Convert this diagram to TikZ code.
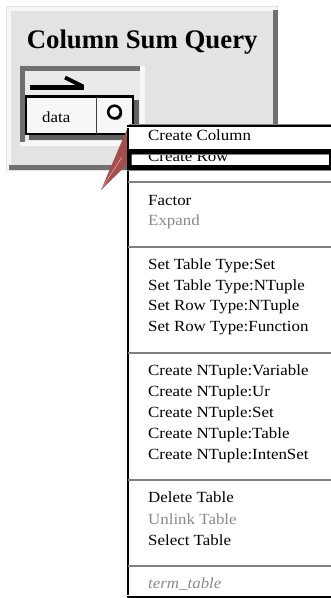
\documentclass[tikz,border=0pt]{standalone}
\usepackage{fontspec}
\setmainfont{Liberation Serif}
\newfontfamily\menufont[FakeStretch=1.09]{Liberation Serif}

\definecolor{panelgray}{RGB}{227,227,227}
\definecolor{bevellight}{RGB}{247,247,247}
\definecolor{beveldark}{RGB}{112,112,112}
\definecolor{frameinner}{RGB}{234,234,234}
\definecolor{shadowgray}{RGB}{96,96,96}
\definecolor{cellfill}{RGB}{247,247,247}
\definecolor{wedgered}{RGB}{163,77,77}
\definecolor{wedgelight}{RGB}{222,170,170}
\definecolor{sepgray}{RGB}{128,128,128}
\definecolor{dimtext}{RGB}{138,138,138}

\begin{document}
\begin{tikzpicture}[x=1pt,y=-1pt,
  item/.style={font=\menufont\fontsize{15.5}{18}\selectfont, anchor=base west, inner sep=0pt, text=black},
  dimitem/.style={item, text=dimtext},
  menusep/.style={draw=sepgray, line width=2.6pt},
  cellbox/.style={draw=none, fill=cellfill, inner sep=0pt, anchor=north west}]
\useasboundingbox (0,0) rectangle (331,598);
\clip (0,0) rectangle (331,598);

% raised panel
\fill[bevellight, draw=panelgray, line width=0.8pt] (6,6) rectangle (277,170);
\fill[beveldark] (273,10) rectangle (277.5,170);
\fill[beveldark] (9,165) rectangle (277.5,170);
\fill[panelgray] (11,11) rectangle (273,165);
\node[font=\fontsize{26.8}{30}\selectfont\bfseries, anchor=base, inner sep=0pt] (title) at (142.2,48.3) {Column Sum Query};

% sunken frame around the table
\fill[bevellight] (20,66) rectangle (145,146);
\fill[beveldark] (20,66) rectangle (140,70.5);
\fill[beveldark] (20,66) rectangle (24.5,142);
\fill[frameinner] (24.5,70.5) rectangle (140,141);

% table header arrow
\draw[line width=4.5pt] (30,87.3) -- (84,87.3);
\draw[line width=4pt] (65,77.5) -- (83,86.5);

% drop shadow of the table row
\fill[shadowgray] (29,100) rectangle (139,139.5);

% table row: data cell and pin cell
\node[cellbox, minimum width=69.8pt, minimum height=37pt] (datacell) at (26.2,96.5) {};
\node[cellbox, minimum width=36.8pt, minimum height=37pt] (pincell) at (96,96.5) {};
\draw[line width=2.4pt] (datacell.north west) rectangle (pincell.south east);
\draw[draw=black!75, line width=1.8pt] (datacell.north east) -- (datacell.south east);
\node[item, font=\menufont\fontsize{15.5}{18}\selectfont] (datatext) at (42,122.5) {data};
\fill[black!55] (116,113.8) circle (6.3pt);
\node[circle, draw=black, line width=2.6pt, fill=white, minimum size=12.6pt, inner sep=0pt] (pin) at (114.5,112) {};

% callout wedge from the pin to the menu
\fill[wedgered] (127.5,128) -- (127.5,164) -- (101,190) -- cycle;
\draw[wedgelight, line width=0.6pt] (102,188) -- (122,157);

% pop-up menu
\node[fill=white, draw=none, inner sep=0pt, anchor=north west, minimum width=220pt, minimum height=469pt] (menu) at (128,127) {};
\draw[line width=2.6pt] ([yshift=-0.5pt]menu.north west) -- ([yshift=1pt]menu.south west);
\draw[line width=2pt] ([xshift=-1.3pt,yshift=1pt]menu.north west) -- ([yshift=1pt]menu.north east);
\draw[sepgray, line width=1pt] ([xshift=1pt,yshift=3pt]menu.north west) -- ([yshift=3pt]menu.north east);
\draw[line width=3pt] ([xshift=-1.3pt,yshift=-1.5pt]menu.south west) -- ([yshift=-1.5pt]menu.south east);

\node[item] (mColumn) at (148,140.7) {Create Column};
\node[item] (mRow) at (148,161.5) {Create Row};

% highlight frame over the current entry
\fill[even odd rule] (127,149) rectangle (331,170) (131.5,154) rectangle (329,165);
\draw[sepgray, line width=1pt] (131.5,154.6) -- (329,154.6);
\draw[sepgray, line width=1pt] (127,170.6) -- (331,170.6);

\draw[menusep] (127.5,182) -- (331,182);
\node[item] (mFactor) at (148,205) {Factor};
\node[dimitem] (mExpand) at (148,225.7) {Expand};

\draw[menusep] (127.5,247) -- (331,247);
\node[item] (mTabSet) at (148,269) {Set Table Type:Set};
\node[item] (mTabNT) at (148,290) {Set Table Type:NTuple};
\node[item] (mRowNT) at (148,310.7) {Set Row Type:NTuple};
\node[item] (mRowFn) at (148,331.7) {Set Row Type:Function};

\draw[menusep] (127.5,353) -- (331,353);
\node[item] (mNVar) at (148,375.7) {Create NTuple:Variable};
\node[item] (mNUr) at (148,396.7) {Create NTuple:Ur};
\node[item] (mNSet) at (148,417.3) {Create NTuple:Set};
\node[item] (mNTab) at (148,438.3) {Create NTuple:Table};
\node[item] (mNInt) at (148,459.3) {Create NTuple:IntenSet};

\draw[menusep] (127.5,480) -- (331,480);
\node[item] (mDelete) at (148,502.7) {Delete Table};
\node[dimitem] (mUnlink) at (148,524) {Unlink Table};
\node[item] (mSelect) at (148,545) {Select Table};

\draw[menusep] (127.5,566) -- (331,566);
\node[dimitem, font=\menufont\itshape\fontsize{15.5}{18}\selectfont] (mTerm) at (148,588.3) {term\_table};
\end{tikzpicture}
\end{document}
